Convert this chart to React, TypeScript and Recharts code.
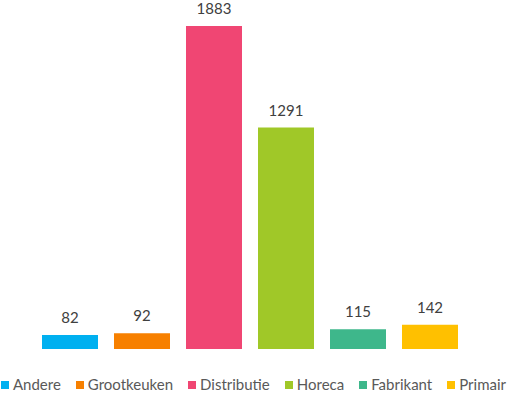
import { BarChart, Bar, XAxis, YAxis, Cell, LabelList } from "recharts";

const categories = ["Andere", "Grootkeuken", "Distributie", "Horeca", "Fabrikant", "Primair"];
const counts = [82, 92, 1883, 1291, 115, 142];
const colors = ["#00B0F0", "#F78000", "#F04673", "#A0C828", "#3EB78B", "#FFC000"];

const data = categories.map((name, i) => ({ name, value: counts[i] }));

const FONT = "Lato, 'Open Sans', sans-serif";

export default function App() {
  return (
    <div style={{ position: "absolute", left: 0, top: 0, width: 507, height: 397, background: "#fff", fontFamily: FONT }}>
      <BarChart
        width={507}
        height={397}
        data={data}
        margin={{ top: 6, right: 41, bottom: 48, left: 34 }}
        barCategoryGap={8}
      >
        <XAxis dataKey="name" hide />
        <YAxis hide domain={[0, 2000]} />
        <Bar dataKey="value" isAnimationActive={false}>
          {data.map((d, i) => (
            <Cell key={d.name} fill={colors[i]} />
          ))}
          <LabelList
            dataKey="value"
            position="top"
            offset={12}
            fill="#404040"
            style={{ fontFamily: FONT, fontSize: 15 }}
          />
        </Bar>
      </BarChart>
      <div
        style={{
          position: "absolute",
          left: 0,
          top: 376,
          width: 507,
          display: "flex",
          justifyContent: "center",
          alignItems: "center",
          fontSize: 15,
          color: "#595959",
          lineHeight: "17px",
          whiteSpace: "nowrap",
        }}
      >
        {categories.map((name, i) => (
          <div key={name} style={{ display: "flex", alignItems: "center", marginRight: i < categories.length - 1 ? 15 : 0 }}>
            <span style={{ display: "inline-block", width: 8, height: 8, background: colors[i], marginRight: 4 }} />
            <span>{name}</span>
          </div>
        ))}
      </div>
    </div>
  );
}
